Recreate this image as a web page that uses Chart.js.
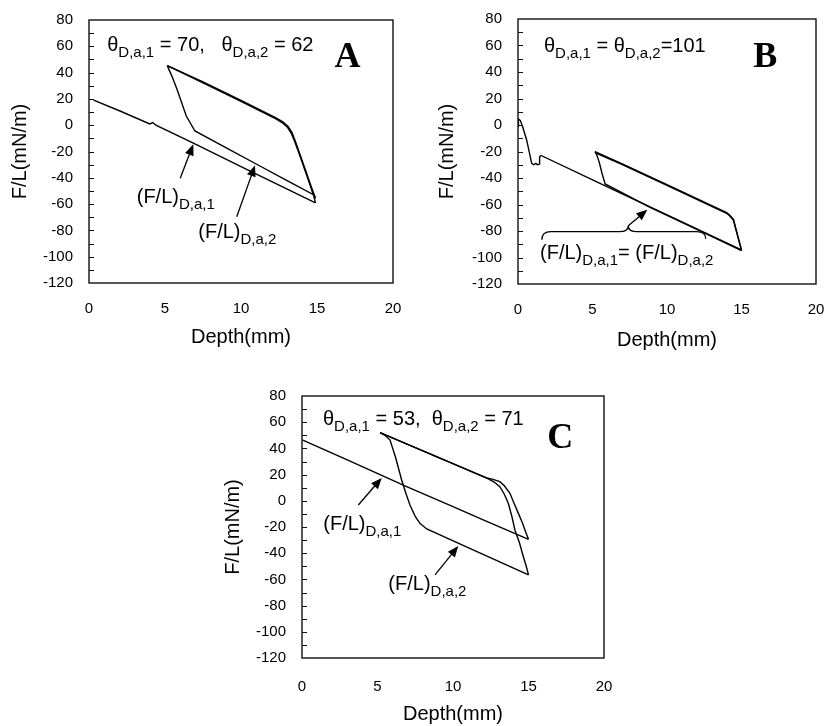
<!DOCTYPE html>
<html>
<head>
<meta charset="utf-8">
<title>Wilhelmy force loops</title>
<script src="https://cdn.jsdelivr.net/npm/chart.js@4/dist/chart.umd.min.js"></script>
<style>
  html, body { margin: 0; padding: 0; background: #fff; }
  body { width: 828px; height: 726px; position: relative; overflow: hidden; }
  .panel { position: absolute; }
  canvas { display: block; }
</style>
</head>
<body>
<div class="panel" style="left:0;top:0"><canvas id="chartA" width="414" height="350"></canvas></div>
<div class="panel" style="left:414px;top:0"><canvas id="chartB" width="414" height="356"></canvas></div>
<div class="panel" style="left:200px;top:360px"><canvas id="chartC" width="420" height="366"></canvas></div>
<script>
// axis ticks shared by all three panels
const depthTicks = [0, 5, 10, 15, 20];
const forceTicks = [-120, -100, -80, -60, -40, -20, 0, 20, 40, 60, 80];

// A: advancing 1, receding 1, advancing 2, receding 2
const depthA1 = [0.3, 2.0, 4.0, 4.2, 4.4, 6.9, 10.0, 12.5, 14.9];
const forceA1 = [19, 11, 1, 2, 0, -13.8, -31.5, -45.5, -59];
const depthA2 = [14.9, 14.8, 14.5, 14.2, 13.9, 13.55, 13.3, 13.05, 12.7, 12.3, 10.0, 7.5, 5.15];
const forceA2 = [-59, -54.5, -44, -34, -24, -13, -6, -1.5, 2, 4.8, 18.2, 32.2, 45.3];
const depthA3 = [5.15, 5.5, 5.8, 6.4, 6.97, 9.0, 11.0, 13.0, 14.8, 14.9];
const forceA3 = [45.3, 36, 27, 7, -4.4, -17.1, -29.5, -42, -53, -55.5];
const depthA4 = [14.9, 14.6, 14.3, 13.95, 13.6, 13.35, 13.1, 12.75, 12.3, 10.0, 7.5, 5.15];
const forceA4 = [-55.5, -46, -36, -24.5, -13, -5.5, -1, 2.6, 5.5, 18.9, 32.9, 45.3];

// B
const depthB1 = [0, 0.03, 0.15, 0.3, 0.58, 0.92, 1.05, 1.2, 1.3, 1.42, 1.45, 1.55, 5.5, 8.86, 12, 15];
const forceB1 = [-1, 4.5, 3.5, -1, -11.3, -28.9, -30, -29, -30, -29.5, -24, -23, -44.1, -61.8, -78.4, -94.3];
const depthB2 = [15, 14.7, 14.45, 14.2, 14.0, 10, 7, 5.28, 5.17];
const forceB2 = [-94.3, -82, -71.7, -68.5, -66.6, -45.6, -29.9, -21.5, -20.1];
const depthB3 = [5.17, 5.3, 5.45, 5.65, 5.85, 8.86, 12, 15];
const forceB3 = [-20.1, -23, -28, -37, -44.5, -62.2, -78.8, -94.8];
const depthB4 = [15, 14.72, 14.47, 14.2, 14.0, 10, 7, 5.17];
const forceB4 = [-94.8, -82.5, -71.3, -68, -66.1, -45.1, -29.4, -20.1];

// C
const depthC1 = [0.05, 3, 6.93, 10, 12, 15];
const forceC1 = [46.4, 31.2, 10.8, -4.5, -14.5, -29.4];
const depthC2 = [15, 14.85, 14.6, 14.33, 14.05, 13.77, 13.4, 13.1, 12.6, 12.23, 9, 5.17];
const forceC2 = [-29.4, -25, -17, -9.6, -2, 5.7, 11.5, 14.6, 16.5, 17.5, 33.1, 52];
const depthC3 = [5.17, 5.5, 5.83, 6.2, 6.6, 6.9, 7.15, 7.5, 7.81, 8.26, 11, 15];
const forceC3 = [52, 50, 46.4, 33, 15.9, 5, -3.2, -12, -17.2, -21.5, -35.8, -56.6];
const depthC4 = [15, 14.85, 14.66, 14.4, 14.1, 13.9, 13.66, 13.4, 13.1, 12.7, 12.34, 9, 5.17];
const forceC4 = [-56.6, -50, -42.7, -32, -22.3, -12, -1.9, 5, 10.8, 14.5, 16.8, 33.4, 52];

const sansFont = '"Liberation Sans", Arial, Helvetica, sans-serif';
const mainFont = '20px ' + sansFont;
const subFont = '15px ' + sansFont;
const letterFont = 'bold 36px "Liberation Serif", "Times New Roman", serif';

const pairUp = (xs, ys) => xs.map((x, i) => ({ x: x, y: ys[i] }));

// text with subscripts, parts = [[text, isSub], ...], y is the baseline
const writeRich = (ctx, x, y, parts) => {
  let cx = x;
  parts.forEach(([text, sub]) => {
    ctx.font = sub ? subFont : mainFont;
    ctx.fillText(text, cx, sub ? y + 6 : y);
    cx += ctx.measureText(text).width;
  });
};

const drawArrow = (ctx, x0, y0, x1, y1) => {
  const ang = Math.atan2(y1 - y0, x1 - x0);
  const c = Math.cos(ang), s = Math.sin(ang);
  const head = 11, half = 4.5;
  ctx.beginPath();
  ctx.moveTo(x0, y0);
  ctx.lineTo(x1 - head * c * 0.8, y1 - head * s * 0.8);
  ctx.stroke();
  ctx.beginPath();
  ctx.moveTo(x1, y1);
  ctx.lineTo(x1 - head * c + half * s, y1 - head * s - half * c);
  ctx.lineTo(x1 - head * c - half * s, y1 - head * s + half * c);
  ctx.closePath();
  ctx.fill();
};

// the box is placed by layout padding alone, so drop the label overhang
const noOverhang = s => {
  s.paddingLeft = 0;
  s.paddingRight = 0;
  s.paddingTop = 0;
  s.paddingBottom = 0;
};

// closed box round the plot area plus short inward ticks on the left side
const framePlugin = {
  id: 'frame',
  afterDraw(chart) {
    const { ctx, chartArea: a } = chart;
    const y = chart.scales.y;
    ctx.save();
    ctx.strokeStyle = '#111';
    ctx.lineWidth = 1.4;
    ctx.strokeRect(a.left, a.top, a.right - a.left, a.bottom - a.top);
    ctx.lineWidth = 1;
    ctx.beginPath();
    for (let v = y.min + 10; v < y.max; v += 10) {
      const py = Math.round(y.getPixelForValue(v)) + 0.5;
      ctx.moveTo(a.left, py);
      ctx.lineTo(a.left + 5, py);
    }
    ctx.stroke();
    ctx.restore();
  }
};

const makePanel = (id, box, branches, notes) => new Chart(document.getElementById(id), {
  type: 'scatter',
  data: {
    datasets: branches.map(([xs, ys]) => ({
      data: pairUp(xs, ys),
      showLine: true,
      borderColor: '#000',
      borderWidth: 1.4,
      pointRadius: 0,
      tension: 0
    }))
  },
  options: {
    responsive: false,
    animation: false,
    events: [],
    layout: { padding: { left: box.left, top: box.top, right: box.right, bottom: 0 } },
    plugins: { legend: { display: false }, tooltip: { enabled: false } },
    scales: {
      x: {
        type: 'linear',
        min: depthTicks[0],
        max: depthTicks[depthTicks.length - 1],
        afterBuildTicks: s => { s.ticks = depthTicks.map(value => ({ value })); },
        afterFit: s => { s.height = box.xHeight; noOverhang(s); },
        grid: { display: false, drawTicks: false, tickLength: 0 },
        border: { display: false },
        ticks: { color: '#000', font: { family: sansFont, size: 15 }, padding: box.xPad, maxRotation: 0, autoSkip: false },
        title: { display: true, text: 'Depth(mm)', color: '#000', font: { family: sansFont, size: 20 }, padding: { top: 0, bottom: box.xTitle } }
      },
      y: {
        type: 'linear',
        min: forceTicks[0],
        max: forceTicks[forceTicks.length - 1],
        afterBuildTicks: s => { s.ticks = forceTicks.map(value => ({ value })); },
        afterFit: s => { s.width = 89; noOverhang(s); },
        grid: { display: false, drawTicks: false, tickLength: 0 },
        border: { display: false },
        ticks: { color: '#000', font: { family: sansFont, size: 15 }, padding: 16, autoSkip: false },
        title: { display: true, text: 'F/L(mN/m)', color: '#000', font: { family: sansFont, size: 20 }, padding: { top: box.yTitle, bottom: 0 } }
      }
    }
  },
  plugins: [framePlugin, {
    id: 'notes',
    afterDraw(chart) {
      const ctx = chart.ctx;
      const X = v => chart.scales.x.getPixelForValue(v);
      const Y = v => chart.scales.y.getPixelForValue(v);
      ctx.save();
      ctx.fillStyle = '#000';
      ctx.strokeStyle = '#000';
      ctx.lineWidth = 1.3;
      ctx.textBaseline = 'alphabetic';
      ctx.textAlign = 'left';
      notes(ctx, X, Y);
      ctx.restore();
    }
  }]
});

const panelLetter = (ctx, text, x, y) => {
  ctx.font = letterFont;
  ctx.textAlign = 'center';
  ctx.fillText(text, x, y);
  ctx.textAlign = 'left';
};

makePanel('chartA',
  { left: 0, top: 20, right: 21, xHeight: 67, xPad: 17, xTitle: 1, yTitle: 8 },
  [[depthA1, forceA1], [depthA2, forceA2], [depthA3, forceA3], [depthA4, forceA4]],
  (ctx, X, Y) => {
    writeRich(ctx, X(1.2), Y(56.4), [['θ', 0], ['D,a,1', 1], [' = 70,   θ', 0], ['D,a,2', 1], [' = 62', 0]]);
    panelLetter(ctx, 'A', X(17.0), Y(44.3));
    drawArrow(ctx, X(6.0), Y(-40.4), X(6.86), Y(-14.5));
    drawArrow(ctx, X(9.72), Y(-69.6), X(10.92), Y(-30.5));
    writeRich(ctx, X(3.14), Y(-59.4), [['(F/L)', 0], ['D,a,1', 1]]);
    writeRich(ctx, X(7.19), Y(-86.0), [['(F/L)', 0], ['D,a,2', 1]]);
  });

makePanel('chartB',
  { left: 15, top: 19, right: 12, xHeight: 72, xPad: 17, xTitle: 4, yTitle: 6 },
  [[depthB1, forceB1], [depthB2, forceB2], [depthB3, forceB3], [depthB4, forceB4]],
  (ctx, X, Y) => {
    writeRich(ctx, X(1.74), Y(55.1), [['θ', 0], ['D,a,1', 1], [' = θ', 0], ['D,a,2', 1], ['=101', 0]]);
    panelLetter(ctx, 'B', X(16.6), Y(43.8));
    // brace gathering both advancing lines
    const l = X(1.6), r = X(12.6), m = X(7.4), yb = Y(-80.5);
    ctx.beginPath();
    ctx.moveTo(l, yb + 8);
    ctx.quadraticCurveTo(l, yb, l + 9, yb);
    ctx.lineTo(m - 9, yb);
    ctx.quadraticCurveTo(m, yb, m, yb - 6);
    ctx.quadraticCurveTo(m, yb, m + 9, yb);
    ctx.lineTo(r - 9, yb);
    ctx.quadraticCurveTo(r, yb, r, yb + 7);
    ctx.stroke();
    drawArrow(ctx, m, yb - 6, X(8.68), Y(-64));
    writeRich(ctx, X(1.48), Y(-101.5), [['(F/L)', 0], ['D,a,1', 1], ['= (F/L)', 0], ['D,a,2', 1]]);
  });

makePanel('chartC',
  { left: 13, top: 36, right: 16, xHeight: 68, xPad: 20, xTitle: 0, yTitle: 8 },
  [[depthC1, forceC1], [depthC2, forceC2], [depthC3, forceC3], [depthC4, forceC4]],
  (ctx, X, Y) => {
    writeRich(ctx, X(1.39), Y(57.9), [['θ', 0], ['D,a,1', 1], [' = 53,  θ', 0], ['D,a,2', 1], [' = 71', 0]]);
    panelLetter(ctx, 'C', X(17.1), Y(40.3));
    drawArrow(ctx, X(3.73), Y(-3.2), X(5.28), Y(17.5));
    drawArrow(ctx, X(8.81), Y(-56.6), X(10.35), Y(-34.5));
    writeRich(ctx, X(1.41), Y(-22.3), [['(F/L)', 0], ['D,a,1', 1]]);
    writeRich(ctx, X(5.72), Y(-68.1), [['(F/L)', 0], ['D,a,2', 1]]);
  });
</script>
</body>
</html>
